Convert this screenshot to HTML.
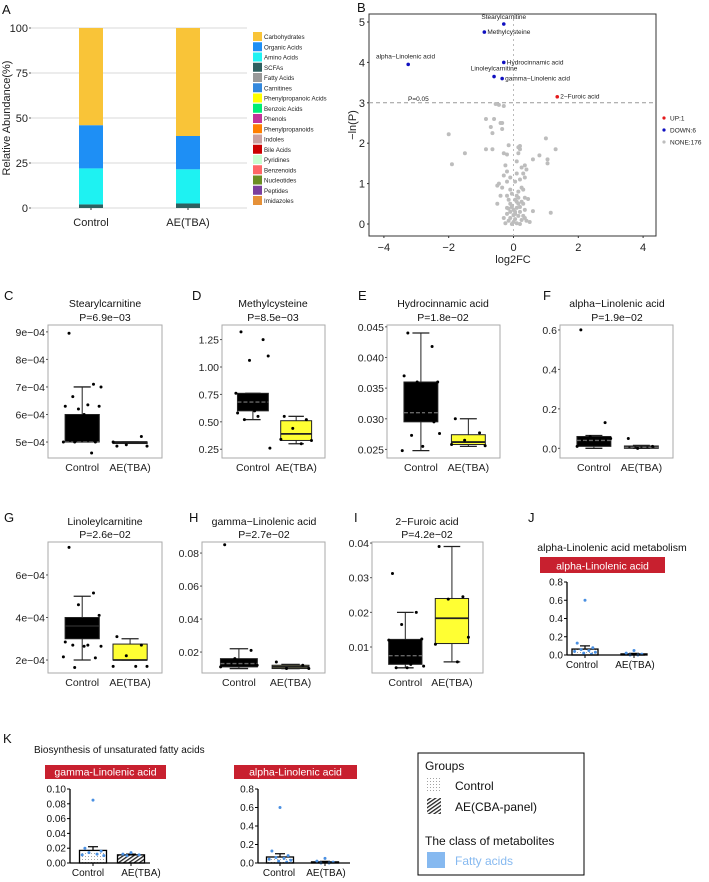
<!DOCTYPE html>
<html><head><meta charset="utf-8"><style>
html,body{margin:0;padding:0;background:#fff;}
svg{display:block;font-family:"Liberation Sans",Arial,sans-serif;}
</style></head><body>
<svg id="fig" width="709" height="882" viewBox="0 0 709 882" xmlns="http://www.w3.org/2000/svg"></svg>
<script>
// ---------- Panel A data ----------
const aGroups = ["Control", "AE(TBA)"];
const aClasses = ["Carbohydrates","Organic Acids","Amino Acids","SCFAs","Fatty Acids","Carnitines","Phenylpropanoic Acids","Benzoic Acids","Phenols","Phenylpropanoids","Indoles","Bile Acids","Pyridines","Benzenoids","Nucleotides","Peptides","Imidazoles"];
const aColors = ["#F9C438","#1E8FF5","#1EF2F2","#2E6060","#999999","#3388DD","#FFFF00","#00EE76","#C33399","#FF7F00","#C9A0A0","#CC0000","#C8FFD0","#FF6666","#6B8E23","#7B3F9E","#E69138"];
const aControl = [54, 24, 20, 2, 0, 0, 0, 0, 0, 0, 0, 0, 0, 0, 0, 0, 0];
const aAE = [60, 18.5, 19, 2.5, 0, 0, 0, 0, 0, 0, 0, 0, 0, 0, 0, 0, 0];
const aTicks = [0, 25, 50, 75, 100];

// ---------- Panel B data ----------
const bSigNames = ["Stearylcarnitine","Methylcysteine","alpha\u2212Linolenic acid","Hydrocinnamic acid","Linoleylcarnitine","gamma\u2212Linolenic acid","2\u2212Furoic acid"];
const bSigX = [-0.3, -0.9, -3.25, -0.3, -0.6, -0.35, 1.35];
const bSigY = [4.95, 4.75, 3.95, 4.0, 3.65, 3.6, 3.15];
const bSigUp = [0, 0, 0, 0, 0, 0, 1];
const bNoneX = [-0.55,-0.45,-0.3,-0.85,-0.6,-0.4,-0.35,-0.35,-0.7,-0.65,-2.0,1.0,-0.15,0.15,0.2,0.2,-0.85,-0.65,-1.5,-0.3,-0.2,0.15,0.6,0.8,1.05,1.05,1.3,-1.9,-0.25,0.1,0.25,0.35,0.4,-0.2,0.1,0.3,-0.3,-0.1,0.2,0.35,-0.45,-0.2,0.05,0.25,-0.5,-0.35,-0.1,0.15,0.3,-0.05,-0.2,0.1,-0.4,0.35,0.45,-0.15,0.05,0.25,-0.5,-0.1,0.15,0.3,-0.05,0.1,0.2,-0.2,0.35,0.6,1.15,-0.1,0.05,0.2,-0.2,0,0.15,0.3,-0.3,-0.1,0.05,0.25,0.4,-0.15,0,0.1,-0.05,0.2,0.35,-0.25,0.5,0.0,-0.05,0.1,0.15,-0.15,0.05];
const bNoneY = [2.97,2.95,2.92,2.6,2.6,2.5,2.5,2.35,2.4,2.25,2.22,2.12,1.95,1.9,1.93,1.85,1.85,1.85,1.75,1.75,1.72,1.75,1.6,1.7,1.6,1.5,1.85,1.48,1.45,1.55,1.4,1.45,1.35,1.3,1.25,1.25,1.2,1.15,1.1,1.15,1.0,1.05,1.05,0.9,0.95,0.9,0.85,0.8,0.85,0.75,0.7,0.7,0.7,0.65,0.62,0.6,0.6,0.55,0.5,0.5,0.5,0.5,0.42,0.4,0.42,0.4,0.35,0.32,0.28,0.3,0.3,0.3,0.25,0.22,0.2,0.2,0.15,0.15,0.12,0.1,0.08,0.08,0.05,0.02,0.0,0.0,0.15,0.02,0.05,0.35,0.45,0.55,0.65,0.38,0.25];
const bXTicks = [-4, -2, 0, 2, 4];
const bYTicks = [0, 1, 2, 3, 4, 5];

// ---------- Box plot data: [whiskerLow, q1, median, q3, whiskerHigh] ----------
const cCtrlBox = [5.0, 5.0, 5.0, 6.0, 7.0];
const cCtrlPts = [8.95, 7.1, 6.2, 6.3, 6.3, 6.35, 6.65, 7.0, 6.0, 5.0, 5.0, 5.0, 4.6];
const cAeBox = [4.95, 4.97, 5.0, 5.0, 5.0];
const cAePts = [4.85, 5.2, 4.9, 4.85, 5.0];
const cTicks = [5, 6, 7, 8, 9];
const cTickLabels = ["5e\u221204","6e\u221204","7e\u221204","8e\u221204","9e\u221204"];

const dCtrlBox = [0.52, 0.6, 0.68, 0.76, 0.76];
const dCtrlPts = [1.32, 1.25, 1.06, 1.1, 0.58, 0.55, 0.52, 0.26, 0.6, 0.76];
const dAeBox = [0.30, 0.33, 0.39, 0.51, 0.55];
const dAePts = [0.55, 0.52, 0.44, 0.33, 0.34, 0.30];
const dTicks = [0.25, 0.5, 0.75, 1.0, 1.25];
const dTickLabels = ["0.25","0.50","0.75","1.00","1.25"];

const eCtrlBox = [0.0248, 0.0295, 0.031, 0.036, 0.044];
const eCtrlPts = [0.044, 0.0418, 0.036, 0.036, 0.037, 0.031, 0.0273, 0.0276, 0.0255, 0.0248, 0.0295];
const eAeBox = [0.0255, 0.0258, 0.0262, 0.0274, 0.030];
const eAePts = [0.030, 0.0277, 0.0265, 0.0256, 0.0258];
const eTicks = [0.025, 0.030, 0.035, 0.040, 0.045];
const eTickLabels = ["0.025","0.030","0.035","0.040","0.045"];

const fCtrlBox = [0.0, 0.01, 0.04, 0.06, 0.065];
const fCtrlPts = [0.6, 0.13, 0.06, 0.05, 0.01, 0.02, 0.03];
const fAeBox = [0.0, 0.0, 0.005, 0.012, 0.015];
const fAePts = [0.05, 0.01, 0.0];
const fTicks = [0, 0.2, 0.4, 0.6];
const fTickLabels = ["0.0","0.2","0.4","0.6"];

const gCtrlBox = [2.0, 3.0, 3.6, 4.0, 5.0];
const gCtrlPts = [7.3, 5.15, 4.6, 4.1, 2.85, 2.7, 2.7, 2.65, 2.65, 2.15, 2.1, 1.65];
const gAeBox = [2.0, 2.0, 2.0, 2.75, 3.0];
const gAePts = [3.1, 2.7, 2.2, 1.7, 1.7, 1.7];
const gTicks = [2, 4, 6];
const gTickLabels = ["2e\u221204","4e\u221204","6e\u221204"];

const hCtrlBox = [0.010, 0.011, 0.013, 0.016, 0.022];
const hCtrlPts = [0.085, 0.021, 0.016, 0.012, 0.011];
const hAeBox = [0.010, 0.010, 0.011, 0.012, 0.0125];
const hAePts = [0.014, 0.012, 0.010, 0.010];
const hTicks = [0.02, 0.04, 0.06, 0.08];
const hTickLabels = ["0.02","0.04","0.06","0.08"];

const iCtrlBox = [0.004, 0.005, 0.0075, 0.0122, 0.020];
const iCtrlPts = [0.0312, 0.020, 0.0165, 0.0123, 0.012, 0.005, 0.004, 0.0045, 0.004];
const iAeBox = [0.0057, 0.011, 0.0183, 0.024, 0.039];
const iAePts = [0.039, 0.0245, 0.0238, 0.0128, 0.0108, 0.0057];
const iTicks = [0.01, 0.02, 0.03, 0.04];
const iTickLabels = ["0.01","0.02","0.03","0.04"];

// ---------- Bar panels (J, K) ----------
const alaMeans = [0.065, 0.012];
const alaErr = [0.035, 0.006];
const alaCtrlPts = [0.6, 0.13, 0.08, 0.06, 0.05, 0.04, 0.03, 0.02, 0.01];
const alaAePts = [0.05, 0.02, 0.01, 0.0, 0.0];
const alaTicks = [0, 0.2, 0.4, 0.6, 0.8];
const alaTickLabels = ["0.0","0.2","0.4","0.6","0.8"];
const glaMeans = [0.017, 0.011];
const glaErr = [0.005, 0.001];
const glaCtrlPts = [0.085, 0.02, 0.016, 0.014, 0.012, 0.011, 0.010];
const glaAePts = [0.014, 0.012, 0.011, 0.010];
const glaTicks = [0, 0.02, 0.04, 0.06, 0.08, 0.10];
const glaTickLabels = ["0.00","0.02","0.04","0.06","0.08","0.10"];

const NS = "http://www.w3.org/2000/svg";
const svg = document.getElementById("fig");

function mk(tag, attrs, name, parent) {
  const el = document.createElementNS(NS, tag);
  for (const k in attrs) el.setAttribute(k, attrs[k]);
  
  
  (parent || svg).appendChild(el);
  return el;
}
function txt(x, y, s, size, name, anchor, extra) {
  const a = {x: x, y: y, "font-size": size, fill: "#111", "text-anchor": anchor || "start"};
  if (extra) for (const k in extra) a[k] = extra[k];
  const t = mk("text", a, name);
  t.textContent = s;
  return t;
}

// defs: patterns
const defs = mk("defs", {}, "pattern-defs");
const pd = mk("pattern", {id: "dots", width: 3, height: 3, patternUnits: "userSpaceOnUse"}, "dot-pattern", defs);
mk("circle", {cx: 1.5, cy: 1.5, r: 0.45, fill: "#777"}, "dot", pd);
const ph = mk("pattern", {id: "hatch", width: 3, height: 3, patternUnits: "userSpaceOnUse", patternTransform: "rotate(-35)"}, "hatch-pattern", defs);
mk("rect", {x: 0, y: 0, width: 3, height: 1.3, fill: "#222"}, "hatch-line", ph);

// ================= Panel A =================
txt(2, 14, "A", 13, "panel-label-a");
(function () {
  const x0 = 31, x1 = 247, yTop = 28, yBot = 208;
  const ya = v => yBot - v / 100 * (yBot - yTop);
  aTicks.forEach(t => {
    mk("line", {x1: x0, x2: x1, y1: ya(t), y2: ya(t), stroke: "#d9d9d9", "stroke-width": 1}, "a-gridline");
    mk("line", {x1: x0 - 2, x2: x0, y1: ya(t), y2: ya(t), stroke: "#333", "stroke-width": 0.8}, "a-y-tick");
    txt(x0 - 3, ya(t) + 4, String(t), 11, "a-y-tick-label", "end", {fill: "#222"});
  });
  txt(0, 0, "Relative Abundance(%)", 11, "a-y-axis-title", "middle", {transform: "translate(10,118) rotate(-90)", fill: "#222"});
  const centers = [91, 188], bw = 24;
  [aControl, aAE].forEach((vals, gi) => {
    let cum = 0;
    for (let i = vals.length - 1; i >= 0; i--) {
      if (vals[i] <= 0) continue;
      const yt = ya(cum + vals[i]), yb = ya(cum);
      const r = mk("rect", {x: centers[gi] - bw / 2, y: yt, width: bw, height: yb - yt, fill: aColors[i]}, "a-bar-segment");
      
      cum += vals[i];
    }
    mk("line", {x1: centers[gi], x2: centers[gi], y1: yBot, y2: yBot + 2, stroke: "#333"}, "a-x-tick");
    txt(centers[gi], 226, aGroups[gi], 11, "a-x-tick-label", "middle", {fill: "#222"});
  });
  aClasses.forEach((c, i) => {
    const y = 32 + i * 10.25;
    mk("rect", {x: 253, y: y, width: 9, height: 9, fill: aColors[i]}, "a-legend-swatch");
    txt(264, y + 7, c, 6.2, "a-legend-label", "start", {fill: "#222"});
  });
})();

// ================= Panel B =================
txt(357, 12, "B", 13, "panel-label-b");
(function () {
  const bx0 = 369, bx1 = 656, by0 = 14, by1 = 236;
  const xb = v => 513.5 + v * 32.4;
  const yb = v => 224 - v * 40.4;
  mk("rect", {x: bx0, y: by0, width: bx1 - bx0, height: by1 - by0, fill: "none", stroke: "#333", "stroke-width": 1}, "b-plot-frame");
  mk("line", {x1: bx0, x2: bx1, y1: yb(3), y2: yb(3), stroke: "#999", "stroke-dasharray": "4,3"}, "b-threshold-line");
  mk("line", {x1: xb(0), x2: xb(0), y1: by0, y2: by1, stroke: "#bbb", "stroke-dasharray": "2,3"}, "b-zero-line");
  txt(408, 101, "P=0.05", 6.5, "b-threshold-label", "start", {fill: "#222"});
  bXTicks.forEach(t => {
    mk("line", {x1: xb(t), x2: xb(t), y1: by1, y2: by1 + 2, stroke: "#333"}, "b-x-tick");
    txt(xb(t), 251, (t < 0 ? "\u2212" : "") + Math.abs(t), 11, "b-x-tick-label", "middle", {fill: "#222"});
  });
  bYTicks.forEach(t => {
    mk("line", {x1: bx0 - 2, x2: bx0, y1: yb(t), y2: yb(t), stroke: "#333"}, "b-y-tick");
    txt(365, yb(t) + 4, String(t), 11, "b-y-tick-label", "end", {fill: "#222"});
  });
  txt(513, 263, "log2FC", 11, "b-x-axis-title", "middle", {fill: "#222"});
  txt(0, 0, "\u2212ln(P)", 11, "b-y-axis-title", "middle", {transform: "translate(356,125) rotate(-90)", fill: "#222"});
  bNoneX.forEach((v, i) => {
    mk("circle", {cx: xb(v), cy: yb(bNoneY[i]), r: 2, fill: "#bdbdbd"}, "b-point-none");
  });
  const lblPos = [["middle", 0, -5], ["start", 3, 2], ["start", -30, -6], ["start", 3, 2], ["middle", 0, -6], ["start", 3, 2], ["start", 3, 2]];
  bSigX.forEach((v, i) => {
    const cx = xb(v), cy = yb(bSigY[i]);
    mk("circle", {cx: cx, cy: cy, r: 1.8, fill: bSigUp[i] ? "#e41a1c" : "#1010c0"}, "b-point-sig");
    const p = lblPos[i];
    let lx = cx + p[1];
    if (i === 2) lx = 376;
    txt(lx, cy + p[2], bSigNames[i], 6.5, "b-point-label", i === 2 ? "start" : p[0], {fill: "#222"});
  });
  const leg = [["UP:1", "#e41a1c"], ["DOWN:6", "#1010c0"], ["NONE:176", "#bdbdbd"]];
  leg.forEach((l, i) => {
    mk("circle", {cx: 664, cy: 118 + i * 12, r: 1.6, fill: l[1]}, "b-legend-dot");
    txt(670, 120.5 + i * 12, l[0], 6.5, "b-legend-label", "start", {fill: "#222"});
  });
})();

// ================= Box plots =================
function boxplot(cfg) {
  const {x0, x1, y0, y1, lo, hi, ticks, tickLabels, ctrlBox, ctrlPts, aeBox, aePts, ctrlFill, aeFill, ctrlMed, aeMed, key} = cfg;
  const y = v => y1 - (v - lo) / (hi - lo) * (y1 - y0);
  const w = x1 - x0;
  const centers = [x0 + w * 0.3, x0 + w * 0.72];
  const bw = w * 0.3;
  mk("rect", {x: x0, y: y0, width: w, height: y1 - y0, fill: "#fff", stroke: "#aaa", "stroke-width": 1}, key + "-plot-frame");
  ticks.forEach((t, i) => {
    mk("line", {x1: x0 - 2, x2: x0, y1: y(t), y2: y(t), stroke: "#555"}, key + "-y-tick");
    txt(x0 - 3, y(t) + 4, tickLabels[i], 10.5, key + "-y-tick-label", "end", {fill: "#222"});
  });
  [[ctrlBox, ctrlPts, ctrlFill, ctrlMed, "control"], [aeBox, aePts, aeFill, aeMed, "ae"]].forEach((g, gi) => {
    const b = g[0], c = centers[gi];
    mk("line", {x1: c, x2: c, y1: y(b[4]), y2: y(b[3]), stroke: "#222", "stroke-width": 1}, key + "-whisker-" + g[4]);
    mk("line", {x1: c, x2: c, y1: y(b[1]), y2: y(b[0]), stroke: "#222", "stroke-width": 1}, key + "-whisker-" + g[4]);
    mk("line", {x1: c - bw / 4, x2: c + bw / 4, y1: y(b[4]), y2: y(b[4]), stroke: "#222", "stroke-width": 1.3}, key + "-cap-" + g[4]);
    mk("line", {x1: c - bw / 4, x2: c + bw / 4, y1: y(b[0]), y2: y(b[0]), stroke: "#222", "stroke-width": 1.3}, key + "-cap-" + g[4]);
    const top = y(b[3]), bot = y(b[1]);
    mk("rect", {x: c - bw / 2, y: top, width: bw, height: Math.max(bot - top, 1.5), fill: g[2], stroke: "#222", "stroke-width": 1}, key + "-box-" + g[4]);
    const dashed = g[3] === "dash";
    mk("line", {x1: c - bw / 2, x2: c + bw / 2, y1: y(b[2]), y2: y(b[2]), stroke: dashed ? "#666" : "#222", "stroke-width": dashed ? 1.4 : 1.8, "stroke-dasharray": dashed ? "4,2" : "none"}, key + "-median-" + g[4]);
    const offs = [-0.35, 0.3, -0.1, 0.45, -0.45, 0.15, -0.25, 0.5, 0.05, -0.5, 0.35, -0.2, 0.25];
    g[1].forEach((v, i) => {
      mk("circle", {cx: c + offs[i % offs.length] * bw * 1.1, cy: y(v), r: 1.5, fill: "#000"}, key + "-point-" + g[4]);
    });
    txt(c, y1 + 13, gi ? "AE(TBA)" : "Control", 10.5, key + "-x-tick-label", "middle", {fill: "#222"});
  });
}
function panelHead(letter, lx, ly, title, pval, cx, ty, py) {
  txt(lx, ly, letter, 13, "panel-label-" + letter.toLowerCase());
  txt(cx, ty, title, 10.5, "panel-" + letter.toLowerCase() + "-title", "middle");
  txt(cx, py, pval, 10.5, "panel-" + letter.toLowerCase() + "-pvalue", "middle");
}

panelHead("C", 4, 300, "Stearylcarnitine", "P=6.9e\u221203", 105, 307, 321);
boxplot({key: "c", x0: 48, x1: 162, y0: 325, y1: 458, lo: 4.42, hi: 9.25, ticks: cTicks, tickLabels: cTickLabels, ctrlBox: cCtrlBox, ctrlPts: cCtrlPts, aeBox: cAeBox, aePts: cAePts, ctrlFill: "#000", aeFill: "#000", ctrlMed: "dash", aeMed: "solid"});
panelHead("D", 192, 300, "Methylcysteine", "P=8.5e\u221203", 273, 307, 321);
boxplot({key: "d", x0: 222, x1: 325, y0: 325, y1: 458, lo: 0.17, hi: 1.383, ticks: dTicks, tickLabels: dTickLabels, ctrlBox: dCtrlBox, ctrlPts: dCtrlPts, aeBox: dAeBox, aePts: dAePts, ctrlFill: "#000", aeFill: "#ffff33", ctrlMed: "dash", aeMed: "solid"});
panelHead("E", 358, 300, "Hydrocinnamic acid", "P=1.8e\u221202", 443, 307, 321);
boxplot({key: "e", x0: 387, x1: 500, y0: 325, y1: 458, lo: 0.0236, hi: 0.0453, ticks: eTicks, tickLabels: eTickLabels, ctrlBox: eCtrlBox, ctrlPts: eCtrlPts, aeBox: eAeBox, aePts: eAePts, ctrlFill: "#000", aeFill: "#ffff33", ctrlMed: "dash", aeMed: "solid"});
panelHead("F", 543, 300, "alpha\u2212Linolenic acid", "P=1.9e\u221202", 617, 307, 321);
boxplot({key: "f", x0: 560, x1: 673, y0: 325, y1: 458, lo: -0.049, hi: 0.625, ticks: fTicks, tickLabels: fTickLabels, ctrlBox: fCtrlBox, ctrlPts: fCtrlPts, aeBox: fAeBox, aePts: fAePts, ctrlFill: "#000", aeFill: "#111", ctrlMed: "dash", aeMed: "dash"});

panelHead("G", 4, 522, "Linoleylcarnitine", "P=2.6e\u221202", 105, 525, 538);
boxplot({key: "g", x0: 48, x1: 162, y0: 542, y1: 673, lo: 1.39, hi: 7.55, ticks: gTicks, tickLabels: gTickLabels, ctrlBox: gCtrlBox, ctrlPts: gCtrlPts, aeBox: gAeBox, aePts: gAePts, ctrlFill: "#000", aeFill: "#ffff33", ctrlMed: "solid", aeMed: "solid"});
panelHead("H", 189, 522, "gamma\u2212Linolenic acid", "P=2.7e\u221202", 264, 525, 538);
boxplot({key: "h", x0: 202, x1: 325, y0: 542, y1: 673, lo: 0.0073, hi: 0.0867, ticks: hTicks, tickLabels: hTickLabels, ctrlBox: hCtrlBox, ctrlPts: hCtrlPts, aeBox: hAeBox, aePts: hAePts, ctrlFill: "#000", aeFill: "#a9a86a", ctrlMed: "dash", aeMed: "solid"});
panelHead("I", 354, 522, "2\u2212Furoic acid", "P=4.2e\u221202", 427, 525, 538);
boxplot({key: "i", x0: 372, x1: 483, y0: 542, y1: 673, lo: 0.0025, hi: 0.0403, ticks: iTicks, tickLabels: iTickLabels, ctrlBox: iCtrlBox, ctrlPts: iCtrlPts, aeBox: iAeBox, aePts: iAePts, ctrlFill: "#000", aeFill: "#ffff33", ctrlMed: "dash", aeMed: "solid"});

// ================= Bar panels =================
function barPanel(cfg) {
  const {key, ax, ay0, ay1, axEnd, max, ticks, tickLabels, means, errs, ctrlPts, aePts, centers, labelX, bw, fills} = cfg;
  const y = v => ay1 - v / max * (ay1 - ay0);
  ticks.forEach((t, i) => {
    mk("line", {x1: ax - 3, x2: ax, y1: y(t), y2: y(t), stroke: "#000", "stroke-width": 1}, key + "-y-tick");
    txt(ax - 4, y(t) + 3.5, tickLabels[i], 10, key + "-y-tick-label", "end");
  });
  [ctrlPts, aePts].forEach((pts, gi) => {
    const c = centers[gi];
    mk("rect", {x: c - bw / 2, y: y(means[gi]), width: bw, height: ay1 - y(means[gi]), fill: fills[gi], stroke: "#000", "stroke-width": 1.3}, key + "-bar-" + (gi ? "ae" : "control"));
    mk("line", {x1: c, x2: c, y1: y(means[gi]), y2: y(means[gi] + errs[gi]), stroke: "#000", "stroke-width": 1.2}, key + "-error-bar");
    mk("line", {x1: c - 5, x2: c + 5, y1: y(means[gi] + errs[gi]), y2: y(means[gi] + errs[gi]), stroke: "#000", "stroke-width": 1.2}, key + "-error-cap");
    const offs = [0, -0.3, 0.3, -0.15, 0.15, -0.4, 0.4, -0.05, 0.25];
    pts.forEach((v, i) => {
      mk("circle", {cx: c + offs[i % offs.length] * bw, cy: y(v), r: 1.5, fill: "#4a90e2"}, key + "-point");
    });
    mk("line", {x1: c, x2: c, y1: ay1, y2: ay1 + 3, stroke: "#000"}, key + "-x-tick");
    txt(labelX[gi], ay1 + 13, gi ? "AE(TBA)" : "Control", 10, key + "-x-tick-label", "middle");
  });
  mk("line", {x1: ax, x2: ax, y1: ay0, y2: ay1, stroke: "#000", "stroke-width": 1.3}, key + "-y-axis");
  mk("line", {x1: ax, x2: axEnd, y1: ay1, y2: ay1, stroke: "#000", "stroke-width": 1.3}, key + "-x-axis");
}
function redTag(x, y, w, h, s, name) {
  mk("rect", {x: x, y: y, width: w, height: h, fill: "#c8202f"}, name);
  txt(x + w / 2, y + h - 3.5, s, 10.5, name + "-text", "middle", {fill: "#fff"});
}

// J
txt(528, 522, "J", 13, "panel-label-j");
txt(612, 551, "alpha-Linolenic acid metabolism", 10.5, "j-pathway-title", "middle");
redTag(540, 557, 125, 16, "alpha-Linolenic acid", "j-metabolite-tag");
barPanel({key: "j", ax: 567, ay0: 582, ay1: 655, axEnd: 645, max: 0.8, ticks: alaTicks, tickLabels: alaTickLabels, means: alaMeans, errs: alaErr, ctrlPts: alaCtrlPts, aePts: alaAePts, centers: [585, 634], labelX: [582, 635], bw: 26, fills: ["url(#dots)", "url(#hatch)"]});

// K
txt(3, 743, "K", 13, "panel-label-k");
txt(34, 753, "Biosynthesis of unsaturated fatty acids", 10, "k-pathway-title");
redTag(45, 765, 121, 14, "gamma-Linolenic acid", "k-gla-tag");
barPanel({key: "k-gla", ax: 70, ay0: 789, ay1: 863, axEnd: 150, max: 0.10, ticks: glaTicks, tickLabels: glaTickLabels, means: glaMeans, errs: glaErr, ctrlPts: glaCtrlPts, aePts: glaAePts, centers: [93, 131], labelX: [88, 141], bw: 27, fills: ["url(#dots)", "url(#hatch)"]});
redTag(234, 765, 123, 14, "alpha-Linolenic acid", "k-ala-tag");
barPanel({key: "k-ala", ax: 258, ay0: 789, ay1: 863, axEnd: 350, max: 0.8, ticks: alaTicks, tickLabels: alaTickLabels, means: alaMeans, errs: alaErr, ctrlPts: alaCtrlPts, aePts: alaAePts, centers: [280, 325], labelX: [279, 326], bw: 27, fills: ["url(#dots)", "url(#hatch)"]});

// Legend box
mk("rect", {x: 418, y: 753, width: 166, height: 122, fill: "#fff", stroke: "#000", "stroke-width": 1}, "k-legend-box");
txt(425, 770, "Groups", 12, "k-legend-groups-title");
mk("rect", {x: 427, y: 777, width: 14, height: 15, fill: "url(#dots)"}, "k-legend-control-swatch");
txt(455, 790, "Control", 12, "k-legend-control-label");
mk("rect", {x: 427, y: 798, width: 14, height: 16, fill: "url(#hatch)"}, "k-legend-ae-swatch");
txt(455, 811, "AE(CBA-panel)", 12, "k-legend-ae-label");
txt(425, 845, "The class of metabolites", 12, "k-legend-class-title");
mk("rect", {x: 427, y: 852, width: 18, height: 16, fill: "#86b9f0"}, "k-legend-fatty-swatch");
txt(455, 865, "Fatty acids", 12, "k-legend-fatty-label", "start", {fill: "#86b9f0"});
</script>
</body></html>
